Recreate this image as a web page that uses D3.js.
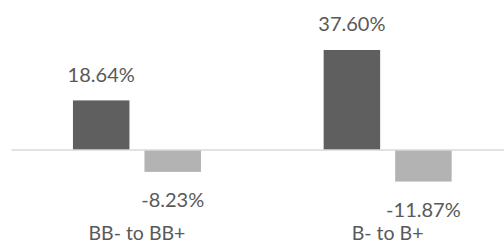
<!DOCTYPE html>
<html>
<head>
<meta charset="utf-8">
<script src="https://cdn.jsdelivr.net/npm/d3@7"></script>
<style>
  html, body { margin: 0; padding: 0; background: #fff; }
  svg { display: block; }
  text { font-family: Lato, "Open Sans", sans-serif; fill: #595959; }
</style>
</head>
<body>
<svg id="chart" width="504" height="243"></svg>
<script>
const categories = ["BB- to BB+", "B- to B+"];
const seriesNames = ["Series 1", "Series 2"];
const series1 = [18.64, 37.60];
const series2 = [-8.23, -11.87];
const valueLabels1 = ["18.64%", "37.60%"];
const valueLabels2 = ["-8.23%", "-11.87%"];
const colors = ["#5f5f5f", "#b3b3b3"];

const svg = d3.select("#chart");

const x = d3.scaleBand().domain(categories).range([11.6, 513]).paddingInner(0).paddingOuter(0);
const groupW = 128;
const xs = d3.scaleBand().domain(seriesNames).range([0, groupW]).paddingInner(0.21).paddingOuter(0);
const y = d3.scaleLinear().domain([-20, 40]).range([203.2, 43.6]);

const data = categories.map((c, i) => ({
  cat: c,
  vals: [
    {s: seriesNames[0], v: series1[i], label: valueLabels1[i], color: colors[0]},
    {s: seriesNames[1], v: series2[i], label: valueLabels2[i], color: colors[1]}
  ]
}));

const groups = svg.selectAll("g.grp").data(data).join("g")
  .attr("class", "grp")
  .attr("transform", d => `translate(${x(d.cat) + (x.bandwidth() - groupW) / 2},0)`);

groups.selectAll("rect").data(d => d.vals).join("rect")
  .attr("x", d => xs(d.s))
  .attr("width", xs.bandwidth())
  .attr("y", d => Math.min(y(d.v), y(0)))
  .attr("height", d => Math.abs(y(d.v) - y(0)))
  .attr("fill", d => d.color);

// axis line at zero
const axis = d3.axisBottom(x).tickSize(0).tickFormat("");
const ax = svg.append("g").attr("transform", `translate(0,${y(0)})`).call(axis);
ax.select(".domain").attr("stroke", "#d9d9d9").attr("stroke-width", 1.5)
  .attr("d", `M${x.range()[0]},0H${x.range()[1]}`);

// value labels
groups.selectAll("text.val").data(d => d.vals).join("text")
  .attr("class", "val")
  .attr("x", d => xs(d.s) + xs.bandwidth() / 2)
  .attr("y", d => d.v >= 0 ? y(d.v) - 18.5 : y(d.v) + 35)
  .attr("text-anchor", "middle")
  .attr("font-size", 20)
  .text(d => d.label);

// category labels
svg.append("g").selectAll("text.cat").data(categories).join("text")
  .attr("class", "cat")
  .attr("x", d => x(d) + x.bandwidth() / 2)
  .attr("y", 239.5)
  .attr("text-anchor", "middle")
  .attr("font-size", 19.5)
  .text(d => d);
</script>
</body>
</html>
